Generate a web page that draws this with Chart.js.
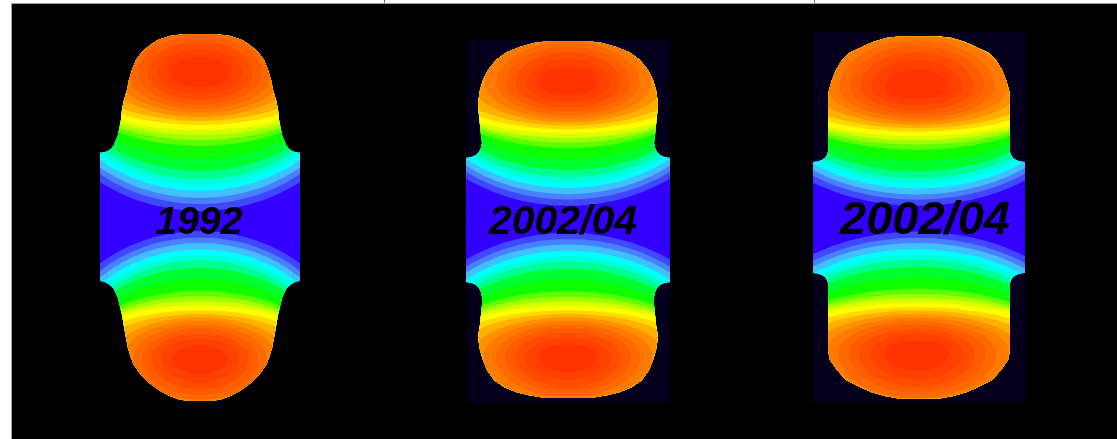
<!DOCTYPE html>
<html>
<head>
<meta charset="utf-8">
<title>Profile wear maps</title>
<script src="https://cdn.jsdelivr.net/npm/chart.js@4.4.1/dist/chart.umd.min.js"></script>
<style>
  html, body { margin: 0; padding: 0; background: #ffffff; }
  #wrap { width: 1117px; height: 439px; }
</style>
</head>
<body>
<div id="wrap"><canvas id="map" width="1117" height="439"></canvas></div>
<script>
// ---- Profile captions ----
const captions     = ['1992', '2002/04', '2002/04'];
const captionX     = [199, 563, 925];
const captionY     = [223, 223, 221];
const captionSize  = [39, 41, 47];

// ---- Profile outlines: centre line, rows and half widths ----
const centreX = [200, 568, 919];

const rows1  = [34, 36, 40, 45, 52, 60, 70, 80, 90, 100, 110, 120, 130, 135, 140, 145, 149, 151.5, 153,
                281, 282, 285, 289, 298, 315, 332, 348, 358, 365, 375, 382, 388, 392, 396, 399, 401];
const half1  = [15, 30, 42, 50, 58, 64, 68, 71, 73, 76, 78, 79, 81, 82, 84, 86, 89, 93, 100,
                100, 95, 90, 86, 82, 78, 75, 72, 69, 66, 59, 52, 44, 38, 30, 22, 12];

const rows2  = [41, 43, 47, 52, 60, 70, 80, 90, 103, 115, 125, 135, 143, 148, 152, 155, 157, 158,
                282, 283, 285, 288, 292, 297, 305, 315, 325, 337, 350, 360, 370, 380, 387, 392, 395, 398];
const half2  = [18, 34, 48, 61, 72, 80, 85, 88, 90, 89, 88, 87, 86, 87, 89, 92, 96, 102,
                102, 96, 92, 89, 87, 86, 86, 87, 88, 90, 88, 85, 81, 74, 64, 52, 40, 22];

const rows3  = [36.5, 38, 42, 46, 53, 60, 70, 80, 90, 100, 152, 155, 158, 160, 161.5, 162,
                273, 273.5, 275, 277, 280, 283, 350, 360, 370, 380, 387, 392, 396, 398.5];
const half3  = [20, 33, 46, 55, 70, 77, 83, 87, 90, 91, 91, 92, 94, 97, 101, 106,
                106, 101, 97, 94, 92, 91, 91, 89, 82, 73, 59, 48, 34, 20];

// ---- Dark backing panels behind the later profiles ----
const panelLeft   = [467, 813];
const panelRight  = [670, 1026];
const panelTop    = [40, 32];
const panelBottom = [403, 403];

// ---- Hot spots (one per lobe) ----
const lobeProfile = [0, 0, 1, 1, 2, 2];
const lobeX       = [200, 200, 568, 568, 917, 917];
const lobeY       = [73, 358, 83, 357, 87, 353];
const lobeUpward  = [true, false, true, false, true, false];   // which side faces the profile end
const lobeReach   = [1.0, 0.92, 0.89, 0.90, 0.86, 0.88];      // reach towards the waist
const lobeEndward = [1.15, 1.27, 1.28, 1.23, 1.50, 1.42];     // stretch towards the profile end
const lobeSpread  = [1.0, 1.0, 1.12, 1.12, 1.25, 1.25];       // sideways stretch

// ---- Contour levels, outermost first ----
const baseColour   = '#3300ff';
const levelColours = ['#4048ff', '#4a80ff', '#40c0ff', '#00ffff', '#00ffd8', '#00ff90', '#00ff30',
                      '#10ff00', '#60ff00', '#a0ff00', '#d8ff00', '#ffff00', '#ffd800', '#ffb000',
                      '#ff9000', '#ff7a00', '#ff6a00', '#ff5c00', '#ff4d00', '#ff4000', '#ff3300'];
const levelReach   = [138, 131, 125, 118, 112, 106, 98, 86, 73, 67, 62, 57, 52, 48, 44, 40, 36, 32, 27, 21, 14];
const levelAspect  = [1.18, 1.2, 1.22, 1.25, 1.28, 1.32, 1.4, 1.55, 1.9, 2.1, 2.3, 2.5, 2.5, 2.4,
                      2.2, 2.1, 2.0, 1.95, 1.95, 2.0, 2.1];

// ---- Table rules above the frame ----
const dividerX = [384, 814];

function outline(cx, rows, half) {
  const pts = [];
  for (let i = 0; i < rows.length; i++) pts.push({ x: cx + half[i], y: rows[i] });
  for (let i = rows.length - 1; i >= 0; i--) pts.push({ x: cx - half[i], y: rows[i] });
  return pts;
}

const outlines = [
  outline(centreX[0], rows1, half1),
  outline(centreX[1], rows2, half2),
  outline(centreX[2], rows3, half3)
];

const profileMaps = {
  id: 'profileMaps',
  beforeDraw(chart) {
    const { ctx, chartArea: a } = chart;
    ctx.save();
    ctx.fillStyle = '#ffffff';
    ctx.fillRect(0, 0, chart.width, chart.height);
    ctx.fillStyle = '#000000';
    ctx.fillRect(a.left, a.top, a.right - a.left, a.bottom - a.top);
    ctx.fillStyle = '#a0a0a0';
    ctx.fillRect(a.left - 1, a.top - 1, a.right - a.left + 1, 1);
    ctx.fillRect(a.left - 1, a.top - 1, 1, a.bottom - a.top + 1);
    ctx.fillStyle = '#707070';
    dividerX.forEach(x => ctx.fillRect(x, 0, 1, a.top - 1));
    ctx.restore();
  },
  beforeDatasetsDraw(chart) {
    const { ctx } = chart;
    const xs = chart.scales.x, ys = chart.scales.y;
    ctx.save();
    // backing panels
    ctx.fillStyle = '#04001c';
    for (let i = 0; i < panelLeft.length; i++) {
      const x0 = xs.getPixelForValue(panelLeft[i]), x1 = xs.getPixelForValue(panelRight[i]);
      const y0 = ys.getPixelForValue(panelTop[i]), y1 = ys.getPixelForValue(panelBottom[i]);
      ctx.fillRect(Math.min(x0, x1), Math.min(y0, y1), Math.abs(x1 - x0), Math.abs(y1 - y0));
    }
    ctx.restore();

    for (let p = 0; p < outlines.length; p++) {
      const pts = chart.getDatasetMeta(p).data;
      ctx.save();
      ctx.beginPath();
      pts.forEach((pt, i) => (i ? ctx.lineTo(pt.x, pt.y) : ctx.moveTo(pt.x, pt.y)));
      ctx.closePath();
      ctx.clip();
      ctx.fillStyle = baseColour;
      ctx.fill();

      for (let l = 0; l < lobeX.length; l++) {
        if (lobeProfile[l] !== p) continue;
        const cx = xs.getPixelForValue(lobeX[l]);
        const cy = ys.getPixelForValue(lobeY[l]);
        for (let k = 0; k < levelReach.length; k++) {
          const ry = levelReach[k] * lobeReach[l];
          const rx = ry * levelAspect[k] * lobeSpread[l];
          const rEnd = ry * lobeEndward[l];
          const pRx = Math.abs(xs.getPixelForValue(lobeX[l] + rx) - cx);
          const pIn = Math.abs(ys.getPixelForValue(lobeY[l] + ry) - cy);
          const pEnd = Math.abs(ys.getPixelForValue(lobeY[l] + rEnd) - cy);
          const up = lobeUpward[l] ? pEnd : pIn;
          const down = lobeUpward[l] ? pIn : pEnd;
          ctx.beginPath();
          ctx.ellipse(cx, cy, pRx, down, 0, 0, Math.PI);
          ctx.ellipse(cx, cy, pRx, up, 0, Math.PI, 2 * Math.PI);
          ctx.closePath();
          ctx.fillStyle = levelColours[k];
          ctx.fill();
        }
      }
      ctx.restore();
    }
  },
  afterDatasetsDraw(chart) {
    const { ctx } = chart;
    const xs = chart.scales.x, ys = chart.scales.y;
    ctx.save();
    ctx.fillStyle = '#000000';
    ctx.textAlign = 'center';
    ctx.textBaseline = 'middle';
    for (let i = 0; i < captions.length; i++) {
      ctx.font = 'italic bold ' + captionSize[i] + 'px "Liberation Sans", Arial, sans-serif';
      ctx.fillText(captions[i], xs.getPixelForValue(captionX[i]), ys.getPixelForValue(captionY[i]));
    }
    ctx.restore();
  }
};

new Chart(document.getElementById('map'), {
  type: 'scatter',
  data: {
    datasets: outlines.map((pts, i) => ({
      label: captions[i],
      data: pts,
      showLine: true,
      borderColor: 'rgba(0,0,0,0)',
      backgroundColor: 'rgba(0,0,0,0)',
      borderWidth: 0,
      pointRadius: 0,
      tension: 0,
      fill: false
    }))
  },
  options: {
    responsive: false,
    animation: false,
    events: [],
    layout: { padding: { left: 12, top: 4, right: 0, bottom: 0 } },
    plugins: { legend: { display: false }, tooltip: { enabled: false } },
    scales: {
      x: { type: 'linear', display: false, min: 12, max: 1117 },
      y: { type: 'linear', display: false, min: 4, max: 439, reverse: true }
    }
  },
  plugins: [profileMaps]
});
</script>
</body>
</html>
